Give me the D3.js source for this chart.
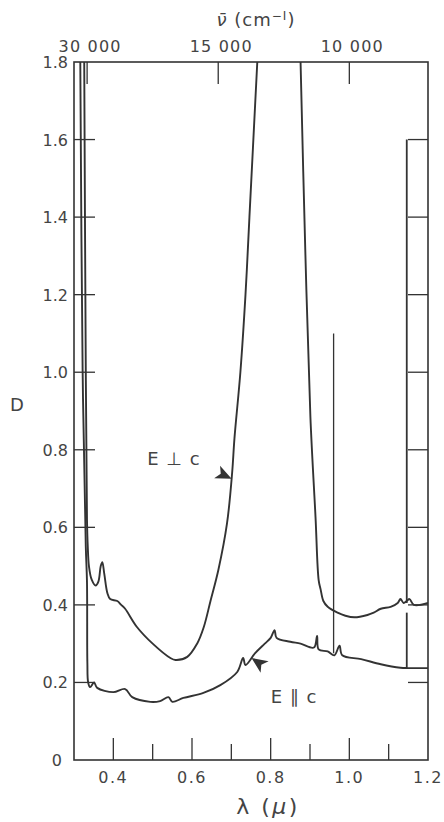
<!DOCTYPE html>
<html>
<head>
<meta charset="utf-8">
<script src="https://cdn.jsdelivr.net/npm/d3@7/dist/d3.min.js"></script>
<style>
  html, body { margin: 0; padding: 0; background: #fff; }
  svg { display: block; }
  text { font-family: "DejaVu Sans", "Lato", sans-serif; fill: #444; }
</style>
</head>
<body>
<svg id="chart" width="444" height="822"></svg>
<script>
// ---- data ----
// E ⊥ c  (upper curve); null = off scale (above 1.8)
const perpLambda = [0.326, 0.330, 0.333, 0.335, 0.338, 0.345, 0.355, 0.362, 0.368, 0.372, 0.377, 0.385, 0.392, 0.410, 0.420, 0.430, 0.460, 0.500, 0.545, 0.558, 0.588, 0.613, 0.630, 0.647, 0.667, 0.689, 0.702, 0.708, 0.723, 0.736, 0.746, 0.766,
                    0.82,
                    0.876, 0.888, 0.901, 0.914, 0.922, 0.927, 0.934, 0.945, 0.970, 0.990, 1.013, 1.046, 1.062, 1.080, 1.105, 1.123, 1.130, 1.138, 1.146, 1.153, 1.164, 1.200];
const perpD      = [1.80, 1.00, 0.62, 0.55, 0.50, 0.465, 0.45, 0.46, 0.50, 0.51, 0.48, 0.43, 0.415, 0.41, 0.40, 0.39, 0.343, 0.30, 0.263, 0.258, 0.266, 0.30, 0.343, 0.41, 0.49, 0.61, 0.74, 0.83, 1.00, 1.20, 1.40, 1.80,
                    null,
                    1.80, 1.315, 0.885, 0.627, 0.464, 0.44, 0.41, 0.395, 0.38, 0.372, 0.368, 0.374, 0.38, 0.39, 0.395, 0.405, 0.415, 0.405, 0.41, 0.415, 0.40, 0.405];

// E ∥ c  (lower curve)
const parLambda = [0.316, 0.322, 0.330, 0.333, 0.334, 0.336, 0.341, 0.351, 0.359, 0.400, 0.430, 0.448, 0.494, 0.519, 0.540, 0.550, 0.578, 0.629, 0.672, 0.715, 0.730, 0.736, 0.760, 0.785, 0.800, 0.810, 0.815, 0.850, 0.876, 0.910, 0.918, 0.922, 0.945, 0.962, 0.975, 0.982, 1.030, 1.080, 1.130, 1.146, 1.160, 1.200];
const parD      = [1.80, 1.00, 0.55, 0.46, 0.25, 0.20, 0.188, 0.20, 0.186, 0.175, 0.183, 0.162, 0.150, 0.152, 0.162, 0.150, 0.160, 0.173, 0.193, 0.227, 0.263, 0.245, 0.275, 0.30, 0.315, 0.335, 0.315, 0.305, 0.30, 0.29, 0.32, 0.285, 0.28, 0.27, 0.295, 0.27, 0.26, 0.247, 0.238, 0.237, 0.237, 0.237];

// sharp spikes (wavelength, base D, top D)
const spikeLambda = [0.960, 1.146, 1.146];
const spikeBase   = [0.275, 0.237, 0.405];
const spikeTop    = [1.10, 0.38, 1.60];

// axis ticks
const yTicks      = [0, 0.2, 0.4, 0.6, 0.8, 1.0, 1.2, 1.4, 1.6, 1.8];
const yTickLabels = ["0", "0.2", "0.4", "0.6", "0.8", "1.0", "1.2", "1.4", "1.6", "1.8"];
const xMajor      = [0.4, 0.6, 0.8, 1.0, 1.2];
const xMajorLabels= ["0.4", "0.6", "0.8", "1.0", "1.2"];
const xMinor      = [0.5, 0.7, 0.9, 1.1];
const nuTicks     = [30000, 15000, 10000];
const nuLabels    = ["30 000", "15 000", "10 000"];

// ---- drawing ----
const svg = d3.select("#chart");
const L = 74, R = 428, T = 62, B = 760;
const x = d3.scaleLinear().domain([0.3, 1.2]).range([L, R]);
const y = d3.scaleLinear().domain([0, 1.8]).range([B, T]);
const ink = "#333";

svg.append("defs").append("clipPath").attr("id", "plot")
  .append("rect").attr("x", L).attr("y", T).attr("width", R - L).attr("height", B - T);

// frame
svg.append("rect").attr("x", L).attr("y", T).attr("width", R - L).attr("height", B - T)
  .attr("fill", "none").attr("stroke", ink).attr("stroke-width", 1.6);

// left / right inner ticks
const yInner = yTicks.filter(v => v > 0 && v < 1.8);
svg.selectAll(".ytl").data(yInner).enter().append("line")
  .attr("x1", L).attr("x2", L + 21).attr("y1", d => y(d)).attr("y2", d => y(d))
  .attr("stroke", ink).attr("stroke-width", 1.3);
svg.selectAll(".ytr").data(yInner).enter().append("line")
  .attr("x1", R).attr("x2", R - 20).attr("y1", d => y(d)).attr("y2", d => y(d))
  .attr("stroke", ink).attr("stroke-width", 1.3);

// y tick labels
svg.selectAll(".ylab").data(yTicks).enter().append("text")
  .attr("x", (d, i) => i === 0 ? 62 : 68)
  .attr("y", d => y(d) + 6)
  .attr("text-anchor", "end").attr("font-size", 16)
  .text((d, i) => yTickLabels[i]);

// bottom ticks (upward)
svg.selectAll(".xmaj").data(xMajor.filter(v => v < 1.2)).enter().append("line")
  .attr("x1", d => x(d)).attr("x2", d => x(d)).attr("y1", B).attr("y2", B - 22)
  .attr("stroke", ink).attr("stroke-width", 1.3);
svg.selectAll(".xmin").data(xMinor).enter().append("line")
  .attr("x1", d => x(d)).attr("x2", d => x(d)).attr("y1", B).attr("y2", B - 16)
  .attr("stroke", ink).attr("stroke-width", 1.3);
svg.selectAll(".xlab").data(xMajor).enter().append("text")
  .attr("x", d => x(d)).attr("y", 783)
  .attr("text-anchor", "middle").attr("font-size", 16).attr("letter-spacing", 1.5)
  .text((d, i) => xMajorLabels[i]);

// top wavenumber axis
svg.selectAll(".nut").data(nuTicks).enter().append("line")
  .attr("x1", d => x(1e4 / d)).attr("x2", d => x(1e4 / d)).attr("y1", T).attr("y2", T + 22)
  .attr("stroke", ink).attr("stroke-width", 1.3);
svg.selectAll(".nul").data(nuTicks).enter().append("text")
  .attr("x", d => x(1e4 / d) + 3).attr("y", 52)
  .attr("text-anchor", "middle").attr("font-size", 16).attr("letter-spacing", 1.2)
  .text((d, i) => nuLabels[i]);

// axis titles
const topTitle = svg.append("text").attr("x", 256).attr("y", 26)
  .attr("text-anchor", "middle").attr("font-size", 18).attr("letter-spacing", 1);
topTitle.append("tspan").attr("font-style", "italic").text("\u03BD\u0304");
topTitle.append("tspan").text(" (cm");
topTitle.append("tspan").attr("dy", -6).attr("font-size", 12).text("\u2212I");
topTitle.append("tspan").attr("dy", 6).text(")");

const botTitle = svg.append("text").attr("x", 268).attr("y", 814)
  .attr("text-anchor", "middle").attr("font-size", 22).attr("letter-spacing", 2.5);
botTitle.append("tspan").text("\u03BB (");
botTitle.append("tspan").attr("font-style", "italic").text("\u03BC");
botTitle.append("tspan").text(")");

svg.append("text").attr("x", 17).attr("y", 411).attr("text-anchor", "middle")
  .attr("font-size", 18).text("D");

// curves
const g = svg.append("g").attr("clip-path", "url(#plot)");
const line = d3.line()
  .defined(d => d[1] !== null)
  .x(d => x(d[0])).y(d => y(d[1]))
  .curve(d3.curveCatmullRom.alpha(0.5));

const perp = perpLambda.map((l, i) => [l, perpD[i]]);
const par  = parLambda.map((l, i) => [l, parD[i]]);

g.append("path").datum(perp).attr("d", line)
  .attr("fill", "none").attr("stroke", ink).attr("stroke-width", 1.9).attr("stroke-linejoin", "round");
g.append("path").datum(par).attr("d", line)
  .attr("fill", "none").attr("stroke", ink).attr("stroke-width", 1.9).attr("stroke-linejoin", "round");

g.selectAll(".spike").data(spikeLambda).enter().append("line")
  .attr("x1", d => x(d)).attr("x2", d => x(d))
  .attr("y1", (d, i) => y(spikeBase[i])).attr("y2", (d, i) => y(spikeTop[i]))
  .attr("stroke", ink).attr("stroke-width", (d, i) => i === 0 ? 1.3 : 1.8);

// annotations
svg.append("text").attr("x", x(0.486)).attr("y", y(0.76)).attr("font-size", 18)
  .attr("letter-spacing", 1).text("E \u22A5 c");
svg.append("text").attr("x", x(0.8)).attr("y", y(0.147)).attr("font-size", 18)
  .attr("letter-spacing", 1).text("E \u2225 c");

const head = "M9,0 L-7,-7 L-3,0 L-7,7 Z";
svg.append("path").attr("d", head).attr("fill", ink)
  .attr("transform", `translate(${x(0.68)},${y(0.735)}) rotate(25)`);
svg.append("path").attr("d", head).attr("fill", ink)
  .attr("transform", `translate(${x(0.77)},${y(0.25)}) rotate(-145)`);
</script>
</body>
</html>
